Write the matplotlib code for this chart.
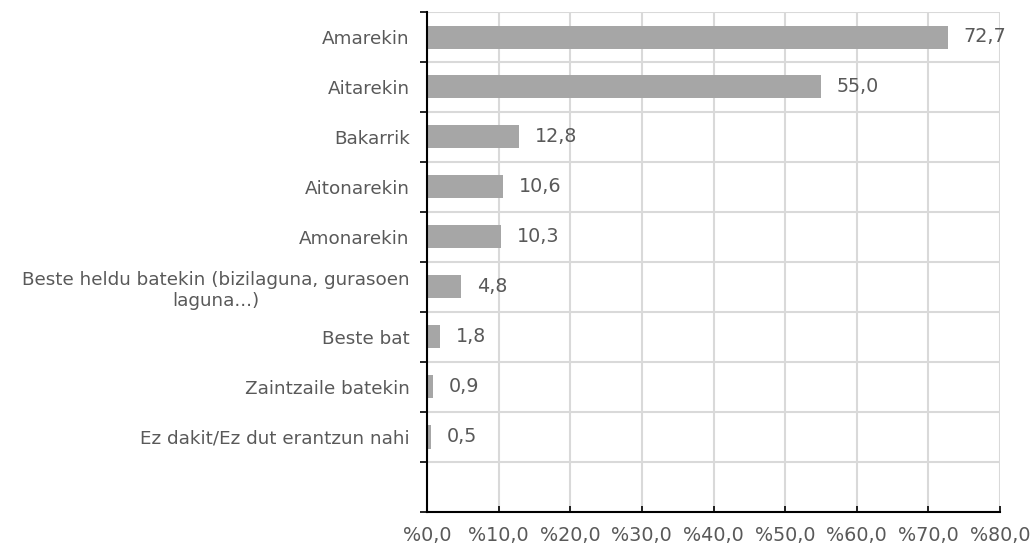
import matplotlib
matplotlib.use("Agg")
import matplotlib.pyplot as plt
from matplotlib.ticker import FixedLocator, FuncFormatter

categories = [
    "Amarekin",
    "Aitarekin",
    "Bakarrik",
    "Aitonarekin",
    "Amonarekin",
    "Beste heldu batekin (bizilaguna, gurasoen\nlaguna...)",
    "Beste bat",
    "Zaintzaile batekin",
    "Ez dakit/Ez dut erantzun nahi",
]
values = [72.7, 55.0, 12.8, 10.6, 10.3, 4.8, 1.8, 0.9, 0.5]
x_ticks = [0, 10, 20, 30, 40, 50, 60, 70, 80]

plt.rcParams["font.family"] = ["DejaVu Sans"]
text_color = "#595959"
bar_color = "#a6a6a6"
grid_color = "#d9d9d9"
fs = 13.2
fs_num = 13.8

fig = plt.figure(figsize=(10.34, 5.46), dpi=100)
ax = fig.add_axes([427 / 1034, 1 - 512 / 546, (1000 - 427) / 1034, 500 / 546])

pos = list(range(len(categories)))
ax.barh(pos, values, height=0.46, color=bar_color, zorder=3)

for p, v in zip(pos, values):
    ax.text(v + 2.2, p, f"{v:.1f}".replace(".", ","), va="center", ha="left",
            fontsize=fs_num, color=text_color, zorder=4)

ax.set_xlim(0, 80)
ax.set_ylim(len(categories) + 0.5, -0.5)

ax.xaxis.set_major_locator(FixedLocator(x_ticks))
ax.xaxis.set_major_formatter(FuncFormatter(lambda x, _: f"%{x:.1f}".replace(".", ",")))
ax.tick_params(axis="x", direction="in", length=4, width=1.2, color="black",
               labelsize=fs_num, labelcolor=text_color, pad=10)

ax.yaxis.set_major_locator(FixedLocator(pos))
ax.set_yticklabels(categories, multialignment="center")
ax.yaxis.set_minor_locator(FixedLocator([i - 0.5 for i in range(len(categories) + 2)]))
ax.tick_params(axis="y", which="major", length=0, labelsize=fs, labelcolor=text_color, pad=12.5)
ax.tick_params(axis="y", which="minor", direction="out", length=5, width=1.2, color="black")

ax.grid(axis="x", which="major", color=grid_color, linewidth=1.5, zorder=0)
ax.grid(axis="y", which="minor", color=grid_color, linewidth=1.5, zorder=0)
ax.grid(axis="y", which="major", visible=False)

for side in ("top", "right"):
    ax.spines[side].set_visible(False)
for side in ("left", "bottom"):
    ax.spines[side].set_color("black")
    ax.spines[side].set_linewidth(1.5)
    ax.spines[side].set_zorder(5)

fig.savefig("out.png", dpi=100)
